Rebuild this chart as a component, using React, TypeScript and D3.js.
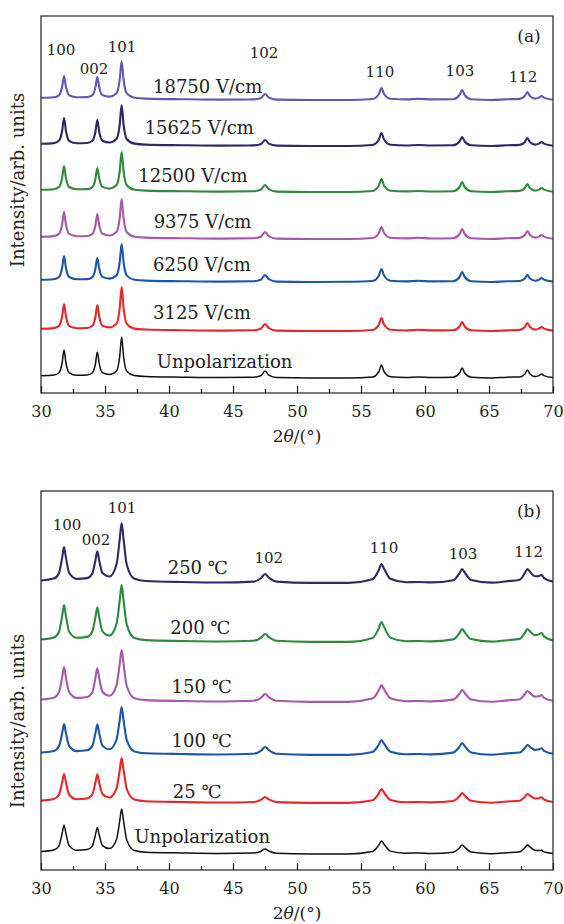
import React, { useEffect, useRef } from 'react';
import * as d3 from 'd3';

// 2θ sampling (deg) shared by every pattern
const twoTheta = [30, 31, 31.4, 31.65, 31.8, 31.95, 32.2, 32.8, 33.6, 34.0, 34.25, 34.4, 34.55, 34.8, 35.35, 35.9, 36.15, 36.3, 36.45, 36.7, 37.3, 38.2,
  41, 44, 46.6, 47.2, 47.5, 47.8, 48.4, 51, 54, 55.9, 56.4, 56.6, 56.8, 57.3, 58.5, 59.5, 60.5, 62.2, 62.7, 62.9, 63.1, 63.6, 65.2, 66.4, 67.4, 67.8, 68.0, 68.2, 68.6, 68.9, 69.1, 69.3, 70];

// (a) polarization field series, intensity above own baseline (arb.)
const aUnpol = [2.2, 2.9, 5.2, 15, 28, 15, 5.2, 2.8, 3.0, 5.0, 14, 26, 14.3, 5.3, 3.5, 7.0, 21.5, 41, 21.5, 6.8, 2.4, 1.4,
  0.8, 0.4, 0.7, 2.5, 7, 2.8, 0.4, 0, 0, 1.0, 6.5, 13, 6.5, 1.3, 0.5, 1.0, 0.5, 0.8, 5, 10, 5, 0.8, 0, 0.8, 1.1, 4, 8, 4, 1.4, 2.4, 4, 2.4, 0.4];
const a3125 = [2.2, 2.9, 5.1, 14.5, 27, 14.5, 5.1, 2.8, 3.0, 5.0, 14, 26, 14.3, 5.4, 3.6, 7.4, 23, 44, 23, 7.2, 2.4, 1.5,
  0.8, 0.4, 0.7, 2.5, 7, 2.8, 0.4, 0, 0, 1.0, 6.5, 13, 6.5, 1.3, 0.5, 1.2, 0.6, 0.7, 4.5, 9, 4.5, 0.7, 0, 0.6, 1.1, 4, 8, 4, 1.4, 2.4, 4, 2.4, 0.4];
const a6250 = [2.2, 2.8, 5.0, 14, 26, 14, 5.0, 2.7, 2.9, 4.7, 13, 24, 13.3, 5.1, 3.4, 6.6, 20, 38, 20, 6.4, 2.3, 1.4,
  0.8, 0.4, 0.7, 2.5, 7, 2.8, 0.4, 0, 0.2, 1.0, 6.5, 13, 6.5, 1.3, 0.6, 1.2, 0.6, 0.8, 5, 10, 5, 0.8, 0, 0.7, 1.0, 3.5, 7, 3.5, 1.3, 2.3, 4, 2.4, 0.4];
const a9375 = [2.2, 2.9, 5.1, 14.5, 27, 14.5, 5.1, 2.8, 3.0, 4.8, 13.5, 25, 13.8, 5.2, 3.5, 6.9, 21, 40, 21, 6.7, 2.3, 1.4,
  0.8, 0.4, 0.7, 2.5, 7, 2.8, 0.4, 0, 0, 1.0, 6, 12, 6, 1.2, 0.6, 1.2, 0.5, 0.8, 5, 10, 5, 0.8, 0, 0.7, 1.1, 4, 8, 4, 1.4, 2.4, 4, 2.4, 0.3];
const a12500 = [2.2, 2.8, 5.0, 14, 26, 14, 5.0, 2.7, 2.9, 4.7, 13, 24, 13.3, 5.1, 3.4, 6.9, 21, 40, 21, 6.7, 2.3, 1.4,
  0.8, 0.4, 0.7, 2.5, 7, 2.8, 0.4, 0, 0, 1.0, 6.5, 13, 6.5, 1.3, 0.6, 1.0, 0.5, 0.8, 5, 10, 5, 0.8, 0, 0.7, 1.1, 4, 8, 4, 1.4, 2.4, 4, 2.4, 0.2];
const a15625 = [2.2, 2.9, 5.2, 15, 28, 15, 5.2, 2.8, 3.0, 5.0, 14, 26, 14.3, 5.3, 3.5, 7.0, 21.5, 41, 21.5, 6.8, 2.4, 1.4,
  0.8, 0.4, 0.6, 2.1, 6, 2.4, 0.4, 0, 0, 1.0, 6.5, 13, 6.5, 1.3, 0.5, 1.0, 0.5, 0.7, 4.5, 9, 4.5, 0.7, 0, 0.7, 1.1, 4, 8, 4, 1.4, 2.4, 4, 2.4, 0.3];
const a18750 = [2.2, 2.7, 4.7, 13, 24, 13, 4.7, 2.7, 2.9, 4.6, 12.5, 23, 12.8, 5.0, 3.4, 6.8, 20.5, 39, 20.5, 6.6, 2.3, 1.4,
  0.8, 0.4, 0.6, 2.1, 6, 2.4, 0.4, 0, 0, 1.0, 6, 12, 6, 1.2, 0.6, 1.2, 0.6, 0.8, 5, 10, 5, 0.8, 0, 0.7, 1.1, 4, 8, 4, 1.4, 2.4, 4, 2.4, 0.3];

// (b) polarization temperature series
const bUnpol = [2.4, 3.9, 8.2, 20.4, 29, 20.4, 8.4, 3.7, 4.4, 7.9, 18.9, 26.6, 19, 8.4, 5.4, 14.5, 33, 45, 33, 14, 3.5, 1.8,
  1.0, 0.5, 0.9, 2.8, 5, 3, 0.8, 0.1, 0.1, 2.6, 9.1, 13, 9.8, 2.9, 0.8, 1.0, 0.6, 1.8, 6.3, 9, 6.8, 2.0, 0.3, 1.2, 2.3, 6.3, 9, 7.1, 3.7, 3.4, 3.7, 2.1, 0.6];
const b25 = [2.4, 3.9, 8.2, 20.4, 29, 20.4, 8.5, 3.7, 4.5, 8.4, 20.3, 28.6, 20.3, 8.9, 5.5, 14.6, 33, 45, 33, 14, 3.5, 1.8,
  1.0, 0.5, 1.0, 3.3, 6, 3.6, 0.9, 0.1, 0.1, 2.8, 9.8, 14, 10.5, 3.1, 0.8, 1.0, 0.6, 2.0, 7, 10, 7.5, 2.2, 0.3, 1.5, 2.3, 6.3, 9, 7.3, 4.5, 4.8, 5.7, 3.5, 1.0];
const b100 = [2.4, 4.0, 8.7, 21.7, 31, 21.7, 9.0, 3.9, 4.7, 8.9, 21.6, 30.6, 21.7, 9.4, 5.7, 15.5, 35, 48, 35, 14.9, 3.6, 1.8,
  1.0, 0.5, 1.3, 4.4, 8, 4.8, 1.2, 0.1, 0.1, 3.0, 10.5, 15, 11.3, 3.3, 0.8, 1.0, 0.6, 2.4, 8.4, 12, 9, 2.6, 0.3, 1.6, 2.5, 7, 10, 8.1, 5.1, 5.7, 6.8, 4.2, 1.2];
const b150 = [2.5, 4.3, 9.6, 24.4, 35, 24.4, 9.9, 4.1, 5.0, 9.6, 23.8, 33.7, 23.9, 10.2, 6.2, 16.7, 38, 52, 38, 16, 3.8, 1.9,
  1.0, 0.5, 1.3, 4.4, 8, 4.8, 1.2, 0.1, 0.1, 3.4, 11.9, 17, 12.8, 3.7, 0.8, 1.0, 0.6, 2.4, 8.4, 12, 9, 2.6, 0.3, 1.6, 2.7, 7.7, 11, 8.9, 5.4, 5.8, 6.9, 4.2, 1.2];
const b200 = [2.5, 4.5, 10, 25.8, 37, 25.8, 10.3, 4.2, 5.1, 10, 24.5, 34.7, 24.6, 10.6, 6.4, 18.1, 41.6, 57, 41.6, 17.4, 4.0, 1.9,
  1.0, 0.5, 1.3, 4.4, 8, 4.8, 1.2, 0.1, 0.1, 4.0, 14, 20, 15, 4.4, 0.8, 1.0, 0.6, 2.6, 9.1, 13, 9.8, 2.9, 0.4, 1.8, 3.1, 9.1, 13, 10.6, 6.7, 7.6, 9.0, 5.6, 1.6];
const b250 = [2.5, 4.4, 9.8, 25.1, 36, 25.1, 10.1, 4.1, 4.9, 9.3, 22.5, 31.8, 22.6, 9.9, 6.5, 18.8, 43.8, 60, 43.8, 18.2, 4.2, 2.0,
  1.0, 0.5, 1.4, 5.0, 9, 5.4, 1.4, 0.1, 0.1, 3.8, 13.3, 19, 14.3, 4.2, 0.8, 1.0, 0.6, 2.8, 9.8, 14, 10.5, 3.1, 0.4, 1.8, 3.3, 9.8, 14, 11.2, 6.7, 6.9, 8.1, 4.9, 1.4];

const aNames = ['Unpolarization', '3125 V/cm', '6250 V/cm', '9375 V/cm', '12500 V/cm', '15625 V/cm', '18750 V/cm'];
const aSeries = [aUnpol, a3125, a6250, a9375, a12500, a15625, a18750];
const aOffsets = [15, 62, 111, 154, 201, 247, 293]; // vertical stacking shift (arb.)

const bNames = ['Unpolarization', '25 ℃', '100 ℃', '150 ℃', '200 ℃', '250 ℃'];
const bSeries = [bUnpol, b25, b100, b150, b200, b250];
const bOffsets = [16, 67, 115, 168, 228, 287];

const hkl = ['100', '002', '101', '102', '110', '103', '112'];
const xTicks = [30, 35, 40, 45, 50, 55, 60, 65, 70];
const xMinorTicks = [32.5, 37.5, 42.5, 47.5, 52.5, 57.5, 62.5, 67.5];

const aColors = ['#111111', '#e8262c', '#1f56a8', '#a35aa8', '#2f8a3f', '#2d2b63', '#6656b0'];
const bColors = ['#111111', '#e8262c', '#1f56a8', '#a35aa8', '#2f8a3f', '#2d2b63'];

const FONT = "'DejaVu Serif', serif";

type Panel = {
  top: number;
  bottom: number;
  tag: string;
  names: string[];
  series: number[][];
  offsets: number[];
  colors: string[];
  nameAt: [number, number][]; // [2θ, height above baseline]
  hklAt: [number, number][];  // [2θ, intensity]
  ylabelY: number;
};

const App = () => {
  const svgRef = useRef<SVGSVGElement>(null);

  useEffect(() => {
    const w = 564;
    const h = 924;
    const left = 41;
    const right = 553;

    const svg = d3.select(svgRef.current).attr('width', w).attr('height', h);
    svg.selectAll('*').remove();

    const x = d3.scaleLinear().domain([30, 70]).range([left, right]);

    const panels: Panel[] = [
      {
        top: 16, bottom: 393, tag: '(a)', names: aNames, series: aSeries, offsets: aOffsets, colors: aColors,
        nameAt: [[39.05, 10], [38.75, 12], [38.75, 11], [38.8, 11], [37.6, 10], [38.1, 12], [38.75, 7]],
        hklAt: [[31.56, 338], [34.14, 319], [36.33, 341], [47.42, 335], [56.48, 316], [62.73, 317], [67.66, 311]],
        ylabelY: 180,
      },
      {
        top: 491, bottom: 870, tag: '(b)', names: bNames, series: bSeries, offsets: bOffsets, colors: bColors,
        nameAt: [[37.3, 11], [40.3, 5], [40.2, 8], [40.2, 9], [40.1, 8], [39.9, 9]],
        hklAt: [[32.03, 340], [34.3, 325], [36.33, 357], [47.8, 307], [56.8, 317], [62.97, 311], [68.1, 313]],
        ylabelY: 721,
      },
    ];

    panels.forEach((p) => {
      const g = svg.append('g');
      const y = d3.scaleLinear().domain([0, p.bottom - p.top]).range([p.bottom, p.top]);

      // patterns
      p.series.forEach((vals, i) => {
        const pts = twoTheta.map((t, k) => [t, vals[k] + p.offsets[i]] as [number, number]);
        const line = d3.line<[number, number]>()
          .x((d) => x(d[0]))
          .y((d) => y(d[1]))
          .curve(d3.curveMonotoneX);
        g.append('path')
          .attr('d', line(pts))
          .attr('fill', 'none')
          .attr('stroke', p.colors[i])
          .attr('stroke-width', i === 0 ? 1.5 : 2.1)
          .attr('stroke-linejoin', 'round');
      });

      // series names
      p.names.forEach((n, i) => {
        g.append('text')
          .attr('x', x(p.nameAt[i][0]))
          .attr('y', y(p.offsets[i] + p.nameAt[i][1]))
          .attr('font-family', FONT)
          .attr('font-size', 18)
          .attr('fill', '#222')
          .text(n);
      });

      // peak indices
      hkl.forEach((lab, i) => {
        g.append('text')
          .attr('x', x(p.hklAt[i][0]))
          .attr('y', y(p.hklAt[i][1]))
          .attr('text-anchor', 'middle')
          .attr('font-family', FONT)
          .attr('font-size', 15)
          .attr('fill', '#222')
          .text(lab);
      });

      g.append('text')
        .attr('x', 529)
        .attr('y', p.top + 26)
        .attr('text-anchor', 'middle')
        .attr('font-family', FONT)
        .attr('font-size', 17)
        .attr('fill', '#222')
        .text(p.tag);

      // frame
      g.append('rect')
        .attr('x', left)
        .attr('y', p.top)
        .attr('width', right - left)
        .attr('height', p.bottom - p.top)
        .attr('fill', 'none')
        .attr('stroke', '#333')
        .attr('stroke-width', 1.3);

      // bottom axis, inward ticks
      const ax = g.append('g')
        .attr('transform', `translate(0,${p.bottom})`)
        .call(d3.axisBottom(x).tickValues(xTicks).tickSize(-7).tickFormat(d3.format('d')));
      ax.select('.domain').remove();
      ax.selectAll('line').attr('stroke', '#222').attr('stroke-width', 1.2);
      ax.selectAll('text')
        .attr('y', 24)
        .attr('dy', null)
        .attr('font-family', FONT)
        .attr('font-size', 16)
        .attr('fill', '#222');

      const axm = g.append('g')
        .attr('transform', `translate(0,${p.bottom})`)
        .call(d3.axisBottom(x).tickValues(xMinorTicks).tickSize(-4).tickFormat(() => ''));
      axm.select('.domain').remove();
      axm.selectAll('line').attr('stroke', '#222').attr('stroke-width', 1.2);

      // axis titles
      const xt = g.append('text')
        .attr('x', (left + right) / 2)
        .attr('y', p.bottom + 49)
        .attr('text-anchor', 'middle')
        .attr('font-family', FONT)
        .attr('font-size', 17)
        .attr('fill', '#222');
      xt.append('tspan').text('2');
      xt.append('tspan').attr('font-style', 'italic').text('θ');
      xt.append('tspan').text('/(°)');

      g.append('text')
        .attr('transform', `translate(24,${p.ylabelY}) rotate(-90)`)
        .attr('text-anchor', 'middle')
        .attr('font-family', FONT)
        .attr('font-size', 18)
        .attr('fill', '#222')
        .text('Intensity/arb. units');
    });
  }, []);

  return (
    <div style={{ position: 'absolute', left: 0, top: 0 }}>
      <svg ref={svgRef}></svg>
    </div>
  );
};

export default App;
